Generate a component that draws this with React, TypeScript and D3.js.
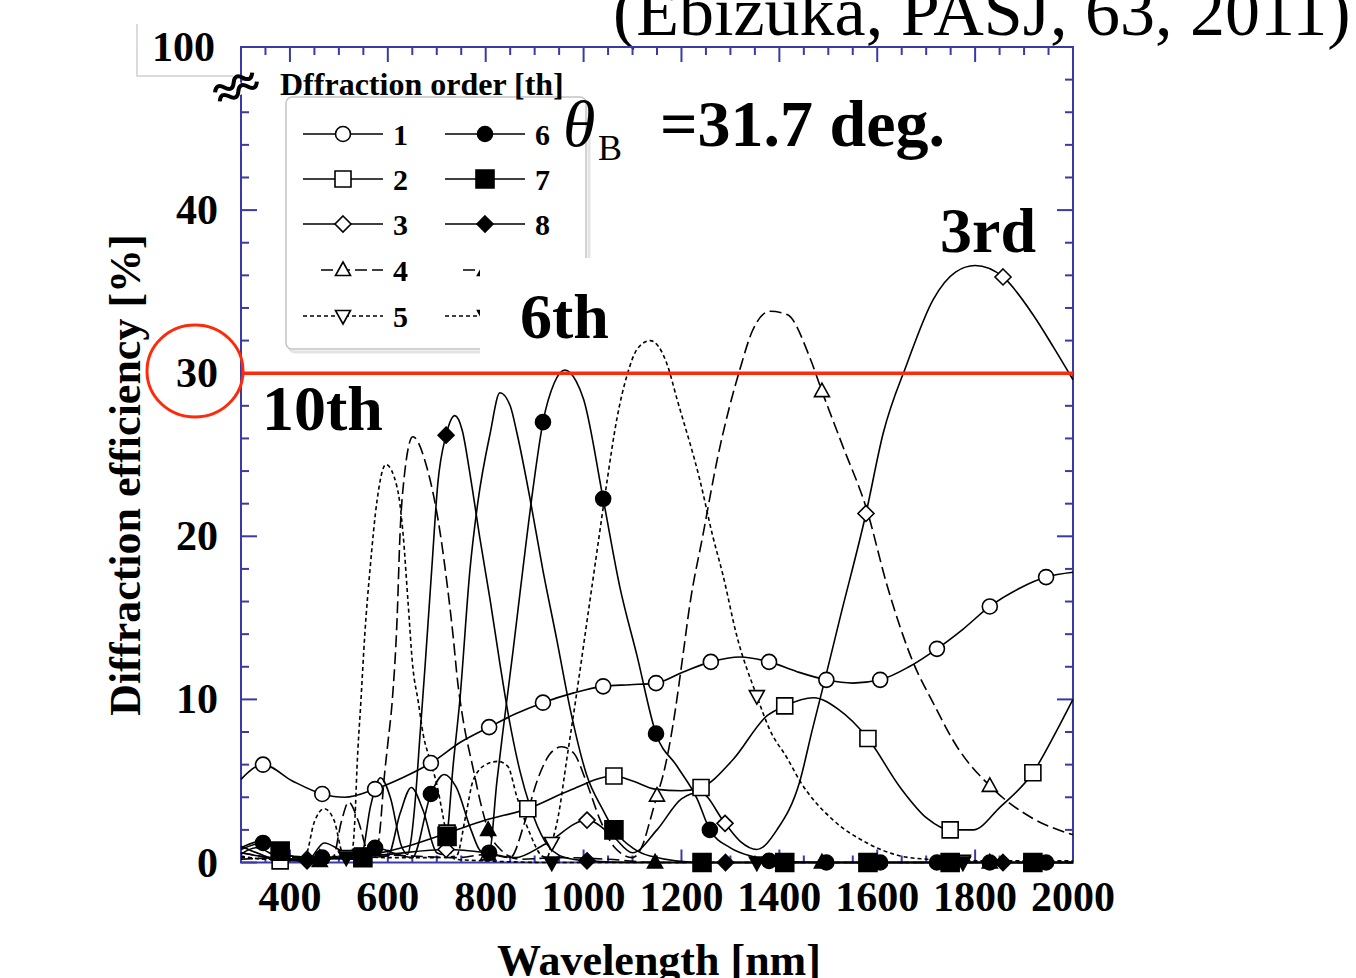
import * as d3 from "d3";

type Pt = [number, number];

// wavelength [nm], efficiency [%]
const xTicks = [400, 600, 800, 1000, 1200, 1400, 1600, 1800, 2000];
const yTicks = [0, 10, 20, 30, 40];
const yTopLabel = "100";

const s1: Pt[] = [[300,5.1],[345,6.0],[405,5.0],[466,4.2],[512,4.0],[574,4.5],[630,5.2],[688,6.1],[750,7.4],[807,8.3],[860,9.1],[917,9.8],[980,10.4],[1040,10.8],[1095,10.9],[1148,11.0],[1205,11.7],[1260,12.3],[1320,12.6],[1379,12.3],[1436,11.7],[1496,11.2],[1550,11.0],[1606,11.2],[1665,12.0],[1722,13.1],[1775,14.3],[1830,15.7],[1890,16.8],[1945,17.5],[2000,17.8]];
const s2: Pt[] = [[300,1.0],[340,0.5],[380,0.1],[460,0.2],[549,0.4],[640,1.0],[721,1.8],[800,2.6],[886,3.3],[970,4.4],[1062,5.3],[1100,5.0],[1146,4.5],[1200,4.4],[1240,4.6],[1305,6.3],[1375,9.0],[1411,9.6],[1470,10.1],[1520,9.4],[1581,7.6],[1647,4.6],[1702,2.7],[1749,2.0],[1796,2.0],[1851,3.4],[1918,5.5],[1967,8.1],[2000,10.0]];
const s3: Pt[] = [[300,0.6],[360,0.3],[435,0.2],[520,0.3],[600,0.5],[719,0.8],[800,0.6],[860,0.3],[920,1.1],[1007,2.6],[1060,1.6],[1100,0.6],[1150,2.0],[1200,3.9],[1238,4.3],[1289,2.4],[1320,1.3],[1354,0.8],[1395,2.0],[1442,5.0],[1467,8.1],[1493,11.2],[1524,15.0],[1577,21.4],[1612,26.3],[1661,30.6],[1714,34.5],[1760,36.2],[1800,36.6],[1857,35.9],[1918,33.6],[1960,31.6],[2000,29.6]];
const s4: Pt[] = [[300,0.2],[400,0.3],[461,0.3],[560,0.5],[650,0.4],[740,0.3],[805,0.5],[850,0.3],[880,2.5],[905,5.0],[930,6.6],[955,7.1],[980,6.7],[1005,5.0],[1034,2.6],[1064,0.9],[1100,0.3],[1121,1.1],[1136,2.6],[1150,4.1],[1162,5.3],[1183,8.5],[1203,12.7],[1217,15.8],[1244,20.1],[1273,24.7],[1320,30.3],[1345,32.6],[1381,33.8],[1416,33.6],[1463,30.9],[1487,28.9],[1530,25.5],[1579,21.6],[1620,17.0],[1673,12.3],[1714,9.8],[1763,7.1],[1830,4.7],[1918,2.7],[2000,1.7]];
const s5: Pt[] = [[300,0.3],[400,0.2],[515,0.4],[600,0.3],[700,0.3],[740,0.4],[760,3.0],[774,5.0],[800,6.0],[825,6.2],[845,5.9],[864,4.0],[890,1.8],[915,0.4],[925,0.3],[935,1.2],[948,2.8],[966,6.4],[987,10.6],[1007,14.8],[1027,19.0],[1048,23.4],[1068,27.2],[1089,29.9],[1110,31.5],[1136,32.0],[1170,30.6],[1191,28.4],[1238,23.4],[1264,20.0],[1285,17.6],[1313,13.9],[1354,10.2],[1381,8.1],[1416,6.4],[1442,5.0],[1510,2.6],[1579,1.2],[1647,0.4],[1702,0.2],[1775,0.1],[1850,0.1],[2000,0.1]];
const s6: Pt[] = [[300,0.8],[345,1.2],[400,0.4],[466,0.3],[520,0.2],[550,0.3],[574,0.9],[620,0.5],[650,0.3],[688,4.2],[715,5.4],[740,4.6],[770,2.0],[790,0.7],[807,0.6],[823,5.0],[835,8.0],[856,13.0],[876,18.0],[897,23.0],[917,27.0],[940,29.4],[962,30.2],[985,29.5],[1000,28.4],[1040,22.3],[1074,16.9],[1109,12.7],[1148,7.9],[1191,5.9],[1232,3.9],[1258,2.0],[1300,0.9],[1354,0.3],[1379,0.1],[1496,0],[1606,0],[1722,0],[1830,0],[1945,0],[2000,0]];
const s7: Pt[] = [[300,0.9],[340,1.3],[380,0.7],[430,0.2],[490,0.3],[549,0.3],[600,0.4],[625,3.0],[648,4.6],[672,3.2],[700,0.6],[712,0.5],[721,1.6],[733,5.8],[747,9.9],[768,18.0],[784,22.1],[809,26.3],[829,28.8],[850,28.0],[864,26.3],[890,22.4],[917,17.9],[945,13.7],[972,9.5],[1007,5.3],[1040,3.2],[1062,2.0],[1100,0.9],[1136,0.4],[1242,0],[1411,0],[1581,0],[1749,0],[1918,0],[2000,0]];
const s8: Pt[] = [[300,0.5],[330,0.9],[380,0.3],[435,0.1],[470,1.2],[500,0.8],[530,0.2],[545,0.3],[565,3.5],[585,5.2],[605,4.0],[628,1.0],[640,0.5],[648,1.5],[656,3.8],[666,7.9],[676,12.0],[690,18.1],[702,23.2],[719,26.2],[737,27.4],[752,26.5],[768,23.8],[788,19.9],[809,16.1],[829,12.2],[846,9.1],[870,5.6],[891,3.4],[921,1.3],[962,0.3],[1007,0.1],[1100,0],[1290,0],[1577,0],[1857,0],[2000,0]];
const s9: Pt[] = [[300,0.6],[360,0.3],[420,0.1],[461,0.1],[488,0.3],[505,2.5],[520,3.7],[540,2.5],[562,0.5],[575,0.4],[584,2.0],[592,5.0],[600,7.3],[609,9.9],[619,15.0],[625,20.2],[633,23.5],[651,26.1],[680,24.2],[707,20.2],[721,17.1],[733,14.0],[743,11.0],[753,8.9],[774,5.8],[790,3.6],[805,2.0],[830,0.8],[870,0.2],[950,0.3],[1050,0.2],[1146,0],[1487,0],[1830,0],[2000,0]];
const s10: Pt[] = [[300,0.4],[350,0.2],[400,0.2],[430,0.3],[450,2.5],[470,3.3],[490,2.6],[508,0.5],[515,0.3],[527,0.7],[533,2.8],[537,5.8],[545,9.9],[553,14.0],[564,18.1],[578,22.2],[596,24.4],[619,23.0],[631,20.2],[641,16.1],[651,12.0],[662,9.9],[672,7.9],[686,6.3],[700,4.8],[713,2.8],[723,1.2],[737,0.2],[800,0.1],[935,0],[1354,0],[1775,0],[2000,0]];

// wavelengths where each curve carries a symbol
const m1 = [345, 466, 574, 688, 807, 917, 1040, 1148, 1260, 1379, 1496, 1606, 1722, 1830, 1945];
const m2 = [380, 549, 721, 886, 1062, 1240, 1411, 1581, 1749, 1918];
const m3 = [435, 719, 1007, 1289, 1577, 1857];
const m4 = [461, 805, 1150, 1487, 1830];
const m5 = [515, 935, 1354, 1775];
const m6 = [345, 466, 574, 688, 807, 917, 1040, 1148, 1258, 1379, 1496, 1606, 1722, 1830, 1945];
const m7 = [380, 549, 721, 1062, 1242, 1411, 1581, 1749, 1918];
const m8 = [435, 719, 1007, 1290, 1577, 1857];
const m9 = [461, 805, 1146, 1487, 1830];
const m10 = [515, 935, 1354, 1775];

// labels 9 and 10 sit under the white patch in the original, so they are not drawn
const orderLabels = ["1", "2", "3", "4", "5", "6", "7", "8", "", ""];
const seriesData = [s1, s2, s3, s4, s5, s6, s7, s8, s9, s10];
const markData = [m1, m2, m3, m4, m5, m6, m7, m8, m9, m10];

const shapes = ["circle", "square", "diamond", "up", "down", "circle", "square", "diamond", "up", "down"];
const dashes = [null, null, null, "12,5", "4,3", null, null, null, "12,5", "4,3"];
const AXIS = "#3a3aa6";
const RED = "#ff2a0a";
const SERIF = "'Liberation Serif', 'Times New Roman', serif";

function symbolPath(kind: string, filled: boolean) {
  const r = 7.5;
  if (kind === "circle") return `M${-r},0a${r},${r} 0 1,0 ${2 * r},0a${r},${r} 0 1,0 ${-2 * r},0Z`;
  if (kind === "square") {
    const s = filled ? 9 : 8;
    return `M${-s},${-s}h${2 * s}v${2 * s}h${-2 * s}Z`;
  }
  if (kind === "diamond") {
    const s = 8;
    return `M0,${-s}L${s},0L0,${s}L${-s},0Z`;
  }
  if (kind === "up") return `M0,-8L7.5,5.5L-7.5,5.5Z`;
  return `M0,8L7.5,-5.5L-7.5,-5.5Z`;
}

function Symbol({ i, cx, cy }: { i: number; cx: number; cy: number }) {
  const filled = i >= 5;
  return (
    <path
      d={symbolPath(shapes[i], filled)}
      transform={`translate(${cx},${cy})`}
      fill={filled ? "#000" : "#fff"}
      stroke="#000"
      strokeWidth={1.6}
    />
  );
}

export default function App() {
  const x = d3.scaleLinear().domain([300, 2000]).range([241, 1073]);
  const y = d3.scaleLinear().domain([0, 50]).range([862.5, 47]);
  const line = d3
    .line<Pt>()
    .x((d) => x(d[0]))
    .y((d) => y(d[1]))
    .curve(d3.curveMonotoneX);

  const [x0, x1] = x.range();
  const [yb, yt] = y.range();

  const minorX = d3.range(300, 2001, 50);
  const minorY = d3.range(0, 51, 2);

  const legendRows = [134, 179, 224, 270, 316];

  return (
    <svg width={1356} height={978} style={{ position: "absolute", left: 0, top: 0 }} fontFamily={SERIF}>
      <rect width={1356} height={978} fill="#fff" />

      {/* citation, cut by the top edge */}
      <text x={613} y={35} fontSize={70}>(Ebizuka, PASJ, 63, 2011)</text>

      {/* box around the "100" label */}
      <path d="M137,24V76H233" fill="none" stroke="#d0d0d0" strokeWidth={1.5} />

      {/* frame */}
      <rect x={x0} y={yt} width={x1 - x0} height={yb - yt} fill="none" stroke={AXIS} strokeWidth={2} />

      {/* x ticks, bottom and top */}
      {minorX.map((v) => {
        const major = v % 200 === 0 && v >= 400;
        const px = x(v);
        return (
          <g key={"xt" + v} stroke={AXIS} strokeWidth={2}>
            <line x1={px} x2={px} y1={yb} y2={yb - (major ? 13 : 7)} />
            <line x1={px} x2={px} y1={yt} y2={yt + (major ? 15 : 8)} />
          </g>
        );
      })}
      {/* y ticks, left and right */}
      {minorY.map((v) => {
        const major = v % 10 === 0;
        const py = y(v);
        return (
          <g key={"yt" + v} stroke={AXIS} strokeWidth={2}>
            <line x1={x0} x2={x0 + (major ? 16 : 8)} y1={py} y2={py} />
            <line x1={x1} x2={x1 - (major ? 16 : 8)} y1={py} y2={py} />
          </g>
        );
      })}

      {/* tick labels */}
      {xTicks.map((v) => (
        <text key={"xl" + v} x={x(v)} y={911} fontSize={42} fontWeight="bold" textAnchor="middle">
          {v}
        </text>
      ))}
      {yTicks.map((v) => (
        <text key={"yl" + v} x={218} y={y(v) + 14} fontSize={42} fontWeight="bold" textAnchor="end">
          {v}
        </text>
      ))}
      <text x={215} y={y(50) + 14} fontSize={42} fontWeight="bold" textAnchor="end">
        {yTopLabel}
      </text>

      {/* axis break */}
      <g transform="translate(236,87) rotate(-28)">
        <rect x={-6} y={-9} width={12} height={18} fill="#fff" />
        <path d="M-21,-5q5,-8 10.5,0t10.5,0t10.5,0t10.5,0" fill="none" stroke="#000" strokeWidth={4} />
        <path d="M-21,5q5,-8 10.5,0t10.5,0t10.5,0t10.5,0" fill="none" stroke="#000" strokeWidth={4} />
      </g>

      {/* axis titles */}
      <text x={659} y={975} fontSize={44} fontWeight="bold" textAnchor="middle">
        Wavelength [nm]
      </text>
      <text transform="translate(140,475) rotate(-90)" fontSize={44} fontWeight="bold" textAnchor="middle">
        Diffraction efficiency [%]
      </text>

      {/* curves */}
      {seriesData.map((s, i) => (
        <path
          key={"c" + i}
          d={line(s) || ""}
          fill="none"
          stroke="#000"
          strokeWidth={1.6}
          strokeDasharray={dashes[i] || undefined}
        />
      ))}
      {seriesData.map((s, i) =>
        markData[i].map((w) => {
          const p = s.find((d) => d[0] === w);
          if (!p) return null;
          return <Symbol key={`m${i}-${w}`} i={i} cx={x(p[0])} cy={y(p[1])} />;
        })
      )}

      {/* legend */}
      <rect x={289} y={100} width={300} height={252} rx={6} fill="none" stroke="#e4e4e4" strokeWidth={3} />
      <rect x={286} y={97} width={300} height={252} rx={6} fill="#fff" stroke="#c4c4c4" strokeWidth={1.5} />
      <text x={280} y={95} fontSize={32} fontWeight="bold">
        Dffraction order [th]
      </text>
      {orderLabels.map((lab, i) => {
        const col = i < 5 ? 0 : 1;
        const ry = legendRows[i % 5];
        const lx0 = col ? 445 : 303;
        const cx = col ? 485 : 343;
        return (
          <g key={"lg" + i}>
            <line
              x1={lx0 + (dashes[i] === "12,5" ? 18 : 0)}
              x2={lx0 + 80}
              y1={ry}
              y2={ry}
              stroke="#000"
              strokeWidth={1.6}
              strokeDasharray={dashes[i] || undefined}
            />
            <Symbol i={i} cx={cx} cy={ry} />
            {lab && (
              <text x={lx0 + 90} y={ry + 11} fontSize={30} fontWeight="bold">
                {lab}
              </text>
            )}
          </g>
        );
      })}

      {/* white patch behind the 6th label */}
      <rect x={480} y={258} width={138} height={100} fill="#fff" />

      {/* annotations */}
      <text x={563} y={146} fontSize={66} fontStyle="italic">θ</text>
      <text x={598} y={160} fontSize={36}>B</text>
      <text x={660} y={146} fontSize={66} fontWeight="bold">=31.7 deg.</text>
      <text x={940} y={252} fontSize={64} fontWeight="bold">3rd</text>
      <text x={520} y={338} fontSize={64} fontWeight="bold">6th</text>
      <text x={262} y={430} fontSize={64} fontWeight="bold">10th</text>

      {/* 30 % guide */}
      <line x1={244} x2={x1} y1={y(30)} y2={y(30)} stroke={RED} strokeWidth={3.5} />
      <ellipse cx={195} cy={371} rx={48} ry={46} fill="none" stroke={RED} strokeWidth={3} />
    </svg>
  );
}
